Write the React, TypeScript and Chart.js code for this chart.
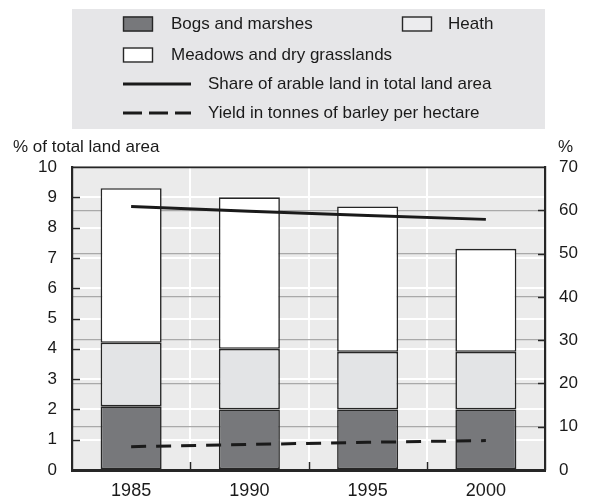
import React, { useEffect, useRef } from 'react';
import { Chart, registerables } from 'chart.js';

Chart.register(...registerables);

const years = ['1985', '1990', '1995', '2000'];
const bogs = [2.1, 2.0, 2.0, 2.0];
const heath = [2.1, 2.0, 1.9, 1.9];
const meadows = [5.1, 5.0, 4.8, 3.4];
const arableShare = [60.9, 59.8, 58.8, 57.9];
const barleyYield = [5.4, 5.9, 6.4, 6.8];
const leftTicks = { min: 0, max: 10, step: 1 };
const rightTicks = { min: 0, max: 70, step: 10 };
const leftTitle = '% of total land area';
const rightTitle = '%';
const labels = {
  bogs: 'Bogs and marshes',
  heath: 'Heath',
  meadows: 'Meadows and dry grasslands',
  arable: 'Share of arable land in total land area',
  yieldL: 'Yield in tonnes of barley per hectare',
};

const FAMILY = '"Liberation Sans", Arial, sans-serif';
const FSIZE = 17;
const TXT = '#1a1a1a';
const EDGE = '#262626';

const decor = {
  id: 'decor',
  beforeDraw(chart: any) {
    const { ctx, chartArea: a } = chart;
    ctx.save();
    ctx.fillStyle = '#ffffff';
    ctx.fillRect(0, 0, chart.width, chart.height);
    ctx.fillStyle = '#ebebeb';
    ctx.fillRect(a.left, a.top, a.right - a.left, a.bottom - a.top);
    ctx.restore();
  },
  afterDraw(chart: any) {
    const { ctx, chartArea: a, scales } = chart;
    ctx.save();
    // inward ticks
    ctx.strokeStyle = EDGE;
    ctx.lineWidth = 1.5;
    for (let v = leftTicks.min + leftTicks.step; v < leftTicks.max; v += leftTicks.step) {
      const p = Math.round(scales.y.getPixelForValue(v)) + 0.5;
      ctx.beginPath();
      ctx.moveTo(a.left, p);
      ctx.lineTo(a.left + 8, p);
      ctx.stroke();
    }
    for (let v = rightTicks.min + rightTicks.step; v < rightTicks.max; v += rightTicks.step) {
      const p = Math.round(scales.y1.getPixelForValue(v)) + 0.5;
      ctx.beginPath();
      ctx.moveTo(a.right - 7, p);
      ctx.lineTo(a.right, p);
      ctx.stroke();
    }
    for (let i = 1; i < years.length; i++) {
      const p = Math.round((scales.x.getPixelForValue(i - 1) + scales.x.getPixelForValue(i)) / 2) + 0.5;
      ctx.beginPath();
      ctx.moveTo(p, a.bottom);
      ctx.lineTo(p, a.bottom - 8);
      ctx.stroke();
    }
    // top border
    ctx.lineWidth = 1.6;
    ctx.beginPath();
    ctx.moveTo(a.left, a.top + 0.5);
    ctx.lineTo(a.right, a.top + 0.5);
    ctx.stroke();

    // axis titles
    ctx.fillStyle = TXT;
    ctx.font = `${FSIZE}px ${FAMILY}`;
    ctx.textBaseline = 'middle';
    ctx.textAlign = 'left';
    ctx.fillText(leftTitle, 13, a.top - 20);
    ctx.fillText(rightTitle, a.right + 13, a.top - 20);

    // legend
    const ds = chart.data.datasets;
    const lx = a.left;
    const lw = a.right - a.left;
    ctx.fillStyle = '#e6e6e8';
    ctx.fillRect(lx, 9, lw, 120);

    const box = (x: number, y: number, d: any, fill?: string) => {
      ctx.fillStyle = fill || d.backgroundColor;
      ctx.fillRect(x, y - 7.5, 30, 15);
      ctx.strokeStyle = EDGE;
      ctx.lineWidth = 1.4;
      ctx.strokeRect(x + 0.5, y - 7.5 + 0.5, 29, 14);
    };
    const text = (s: string, x: number, y: number) => {
      ctx.fillStyle = TXT;
      ctx.textAlign = 'left';
      ctx.textBaseline = 'middle';
      ctx.fillText(s, x, y);
    };
    const bx = lx + 51;
    box(bx, 24, ds[0]);
    text(ds[0].label, lx + 99, 24);
    box(lx + 330, 24, ds[1], '#ececee');
    text(ds[1].label, lx + 376, 24);
    box(bx, 55, ds[2]);
    text(ds[2].label, lx + 99, 55);

    ctx.strokeStyle = '#1a1a1a';
    ctx.lineWidth = 3;
    ctx.setLineDash([]);
    ctx.beginPath();
    ctx.moveTo(bx, 84);
    ctx.lineTo(bx + 68, 84);
    ctx.stroke();
    text(ds[3].label, lx + 136, 84);

    ctx.setLineDash([19, 7]);
    ctx.beginPath();
    ctx.moveTo(bx, 113);
    ctx.lineTo(bx + 68, 113);
    ctx.stroke();
    ctx.setLineDash([]);
    text(ds[4].label, lx + 136, 113);
    ctx.restore();
  },
};

export default function App() {
  const ref = useRef<HTMLCanvasElement | null>(null);
  useEffect(() => {
    if (!ref.current) return;
    const font = { family: FAMILY, size: FSIZE };
    const barCommon = {
      type: 'bar' as const,
      borderColor: EDGE,
      borderWidth: 1.6,
      borderSkipped: false,
      barPercentage: 0.516,
      categoryPercentage: 1,
      stack: 'land',
      yAxisID: 'y',
      order: 2,
    };
    const chart = new Chart(ref.current, {
      type: 'bar',
      data: {
        labels: years,
        datasets: [
          { ...barCommon, label: labels.bogs, data: bogs, backgroundColor: '#77787b' },
          { ...barCommon, label: labels.heath, data: heath, backgroundColor: '#e3e4e6' },
          { ...barCommon, label: labels.meadows, data: meadows, backgroundColor: '#ffffff' },
          {
            type: 'line' as const,
            label: labels.arable,
            data: arableShare,
            yAxisID: 'y1',
            borderColor: '#1a1a1a',
            borderWidth: 3,
            pointRadius: 0,
            fill: false,
            tension: 0,
            order: 1,
          },
          {
            type: 'line' as const,
            label: labels.yieldL,
            data: barleyYield,
            yAxisID: 'y1',
            borderColor: '#1a1a1a',
            borderWidth: 3,
            borderDash: [15, 10],
            pointRadius: 0,
            fill: false,
            tension: 0,
            order: 1,
          },
        ] as any,
      },
      options: {
        responsive: false,
        animation: false,
        devicePixelRatio: 1,
        layout: { padding: { top: 167, left: 0, right: 0, bottom: 0 } },
        plugins: { legend: { display: false }, tooltip: { enabled: false }, title: { display: false } },
        scales: {
          x: {
            stacked: true,
            offset: true,
            grid: { offset: true, color: '#ffffff', lineWidth: 2, drawTicks: false },
            border: { display: true, color: EDGE, width: 3, z: 1 },
            ticks: { font: { family: FAMILY, size: 18 }, color: TXT, padding: 10 },
            afterFit: (s: any) => { s.height = 30; },
          },
          y: {
            stacked: true,
            position: 'left',
            min: leftTicks.min,
            max: leftTicks.max,
            grid: { color: '#ffffff', lineWidth: 2, drawTicks: false },
            border: { display: true, color: EDGE, width: 2.2, z: 1 },
            ticks: { stepSize: leftTicks.step, font, color: TXT, padding: 15 },
            afterFit: (s: any) => { s.width = 72; },
          },
          y1: {
            stacked: false,
            position: 'right',
            min: rightTicks.min,
            max: rightTicks.max,
            grid: { color: '#a9a9a9', lineWidth: 1.3, drawTicks: false, drawOnChartArea: true },
            border: { display: true, color: EDGE, width: 2.2, z: 1 },
            ticks: { stepSize: rightTicks.step, font, color: TXT, padding: 14 },
            afterFit: (s: any) => { s.width = 53; },
          },
        },
      } as any,
      plugins: [decor],
    });
    return () => chart.destroy();
  }, []);
  return (
    <div style={{ position: 'absolute', left: 0, top: 0, width: 598, height: 500 }}>
      <canvas ref={ref} width={598} height={500} style={{ display: 'block' }} />
    </div>
  );
}
